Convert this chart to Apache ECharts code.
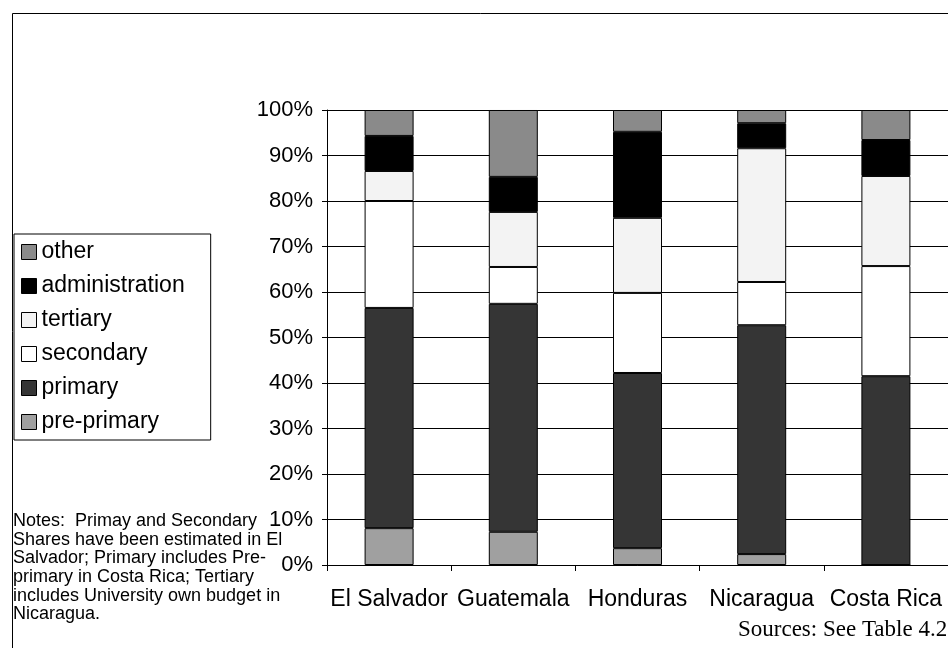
<!DOCTYPE html>
<html>
<head>
<meta charset="utf-8">
<script src="https://cdn.jsdelivr.net/npm/echarts@6/dist/echarts.min.js"></script>
<style>
html,body{margin:0;padding:0;background:#fff;}
#chart{width:948px;height:648px;}
</style>
</head>
<body>
<div id="chart"></div>
<script>
const categories = ['El Salvador', 'Guatemala', 'Honduras', 'Nicaragua', 'Costa Rica'];
const prePrimary = [8.1, 7.3, 3.7, 2.4, 0];
const primary = [48.4, 50.1, 38.5, 50.3, 41.5];
const secondary = [23.5, 8.1, 17.6, 9.5, 24.2];
const tertiary = [6.6, 12.1, 16.5, 29.4, 19.8];
const administration = [7.7, 7.7, 18.9, 5.5, 7.9];
const other = [5.7, 14.7, 4.8, 2.9, 6.6];
const legendOrder = ['other', 'administration', 'tertiary', 'secondary', 'primary', 'pre-primary'];
const notesText = 'Notes:  Primay and Secondary\nShares have been estimated in El\nSalvador; Primary includes Pre-\nprimary in Costa Rica; Tertiary\nincludes University own budget in\nNicaragua.';
const sourcesText = 'Sources: See Table 4.2';

const FONT = '"Liberation Sans", Arial, Helvetica, sans-serif';
const chart = echarts.init(document.getElementById('chart'), null, {renderer: 'canvas'});

function s(name, data, color) {
  return {
    name: name, type: 'bar', stack: 'total', data: data, barWidth: 49,
    itemStyle: {color: color, borderColor: '#000', borderWidth: 1},
    emphasis: {disabled: true}
  };
}

chart.setOption({
  animation: false,
  backgroundColor: '#fff',
  textStyle: {fontFamily: FONT},
  grid: {left: 327, top: 110, width: 625, height: 455, containLabel: false},
  legend: {
    orient: 'vertical', left: 14, top: 234,
    data: legendOrder,
    itemWidth: 15, itemHeight: 15, itemGap: 10,
    icon: 'rect',
    padding: [6, 26, 6, 7],
    borderColor: '#000', borderWidth: 1,
    selectedMode: false,
    textStyle: {fontSize: 23, color: '#000', fontFamily: FONT, lineHeight: 24},
    itemStyle: {borderColor: '#000', borderWidth: 1}
  },
  xAxis: {
    type: 'category', data: categories,
    axisLine: {lineStyle: {color: '#000', width: 1}},
    axisTick: {show: true, length: 6, lineStyle: {color: '#000'}},
    axisLabel: {fontSize: 23, color: '#000', margin: 23, fontFamily: FONT, interval: 0},
    splitLine: {show: false}
  },
  yAxis: {
    type: 'value', min: 0, max: 100, interval: 10,
    axisLine: {show: true, lineStyle: {color: '#000', width: 1}},
    axisTick: {show: true, length: 5, lineStyle: {color: '#000'}},
    axisLabel: {fontSize: 22, color: '#000', margin: 14, fontFamily: FONT, formatter: '{value}%'},
    splitLine: {show: true, lineStyle: {color: '#000', width: 1}}
  },
  series: [
    s('pre-primary', prePrimary, '#a0a0a0'),
    s('primary', primary, '#353535'),
    s('secondary', secondary, '#ffffff'),
    s('tertiary', tertiary, '#f3f3f3'),
    s('administration', administration, '#000000'),
    s('other', other, '#8a8a8a')
  ],
  graphic: [
    {type: 'rect', shape: {x: 12.5, y: 13.5, width: 1000, height: 1000}, style: {fill: null, stroke: '#000', lineWidth: 1}, silent: true},
    {type: 'text', left: 13, top: 512, style: {text: notesText, fontSize: 18, lineHeight: 18.6, fill: '#000', fontFamily: FONT}},
    {type: 'text', left: 738, top: 618, style: {text: sourcesText, fontSize: 23, fill: '#000', fontFamily: '"Liberation Serif", "Times New Roman", serif'}}
  ]
});
</script>
</body>
</html>
